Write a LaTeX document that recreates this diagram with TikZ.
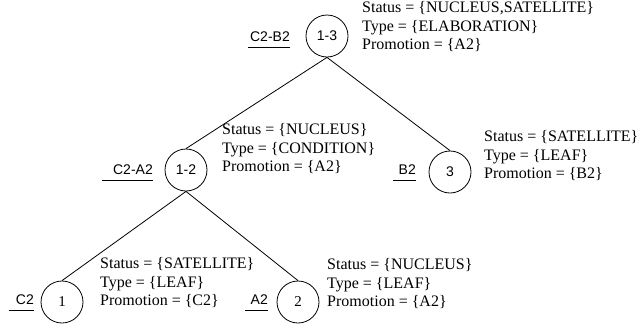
\documentclass[tikz,border=0pt]{standalone}
\usepackage{fontspec}
\setmainfont{Liberation Serif}
\setsansfont{Liberation Sans}
\begin{document}
\begin{tikzpicture}[x=1pt,y=-1pt,
  tnode/.style={circle,draw,line width=0.8pt,minimum size=42pt,inner sep=0pt,font=\sffamily\fontsize{14}{16}\selectfont},
  snode/.style={tnode,font=\fontsize{15}{16}\selectfont},
  lbl/.style={anchor=east,inner sep=0pt,font=\sffamily\fontsize{14}{16}\selectfont},
  attr/.style={anchor=west,inner sep=0pt,align=left,font=\fontsize{16}{18.5}\selectfont},
  edge/.style={line width=0.8pt},
  uline/.style={line width=0.8pt}]
\useasboundingbox (0,0) rectangle (643,327);
% tree nodes
\node[tnode] (n13) at (327,36) {1-3};
\node[tnode] (n12) at (186,170) {1-2};
\node[tnode] (n3) at (450,172) {3};
\node[snode] (n1) at (62,302) {1};
\node[snode] (n2) at (298,302) {2};
% edges
\draw[edge] (n13.south) -- (n12.north);
\draw[edge] (n13.south) -- (n3.north);
\draw[edge] (n12.south) -- (n1.north);
\draw[edge] (n12.south) -- (n2.north);
% labels
\node[lbl] (l13) at (290,37) {C2-B2};
\node[lbl] (l12) at (153,170) {C2-A2};
\node[lbl] (l3) at (416,170) {B2};
\node[lbl] (l1) at (34,300) {C2};
\node[lbl] (l2) at (268,300) {A2};
\draw[uline] ([xshift=-2pt,yshift=-5pt]l13.south west) -- ([yshift=-5pt]l13.south east);
\draw[uline] ([xshift=-11pt,yshift=-5pt]l12.south west) -- ([yshift=-5pt]l12.south east);
\draw[uline] ([xshift=-5pt,yshift=-5pt]l3.south west) -- ([yshift=-5pt]l3.south east);
\draw[uline] ([xshift=-7pt,yshift=-5pt]l1.south west) -- ([yshift=-5pt]l1.south east);
\draw[uline] ([xshift=-5pt,yshift=-5pt]l2.south west) -- ([yshift=-5pt]l2.south east);
% attributes
\node[attr] (a13) at (362,27) {Status = \{NUCLEUS,SATELLITE\}\\Type = \{ELABORATION\}\\Promotion = \{A2\}};
\node[attr] (a12) at (222,149) {Status = \{NUCLEUS\}\\Type = \{CONDITION\}\\Promotion = \{A2\}};
\node[attr] (a3) at (484,156) {Status = \{SATELLITE\}\\Type = \{LEAF\}\\Promotion = \{B2\}};
\node[attr] (a1) at (100,283) {Status = \{SATELLITE\}\\Type = \{LEAF\}\\Promotion = \{C2\}};
\node[attr] (a2) at (327,284) {Status = \{NUCLEUS\}\\Type = \{LEAF\}\\Promotion = \{A2\}};
\end{tikzpicture}
\end{document}
